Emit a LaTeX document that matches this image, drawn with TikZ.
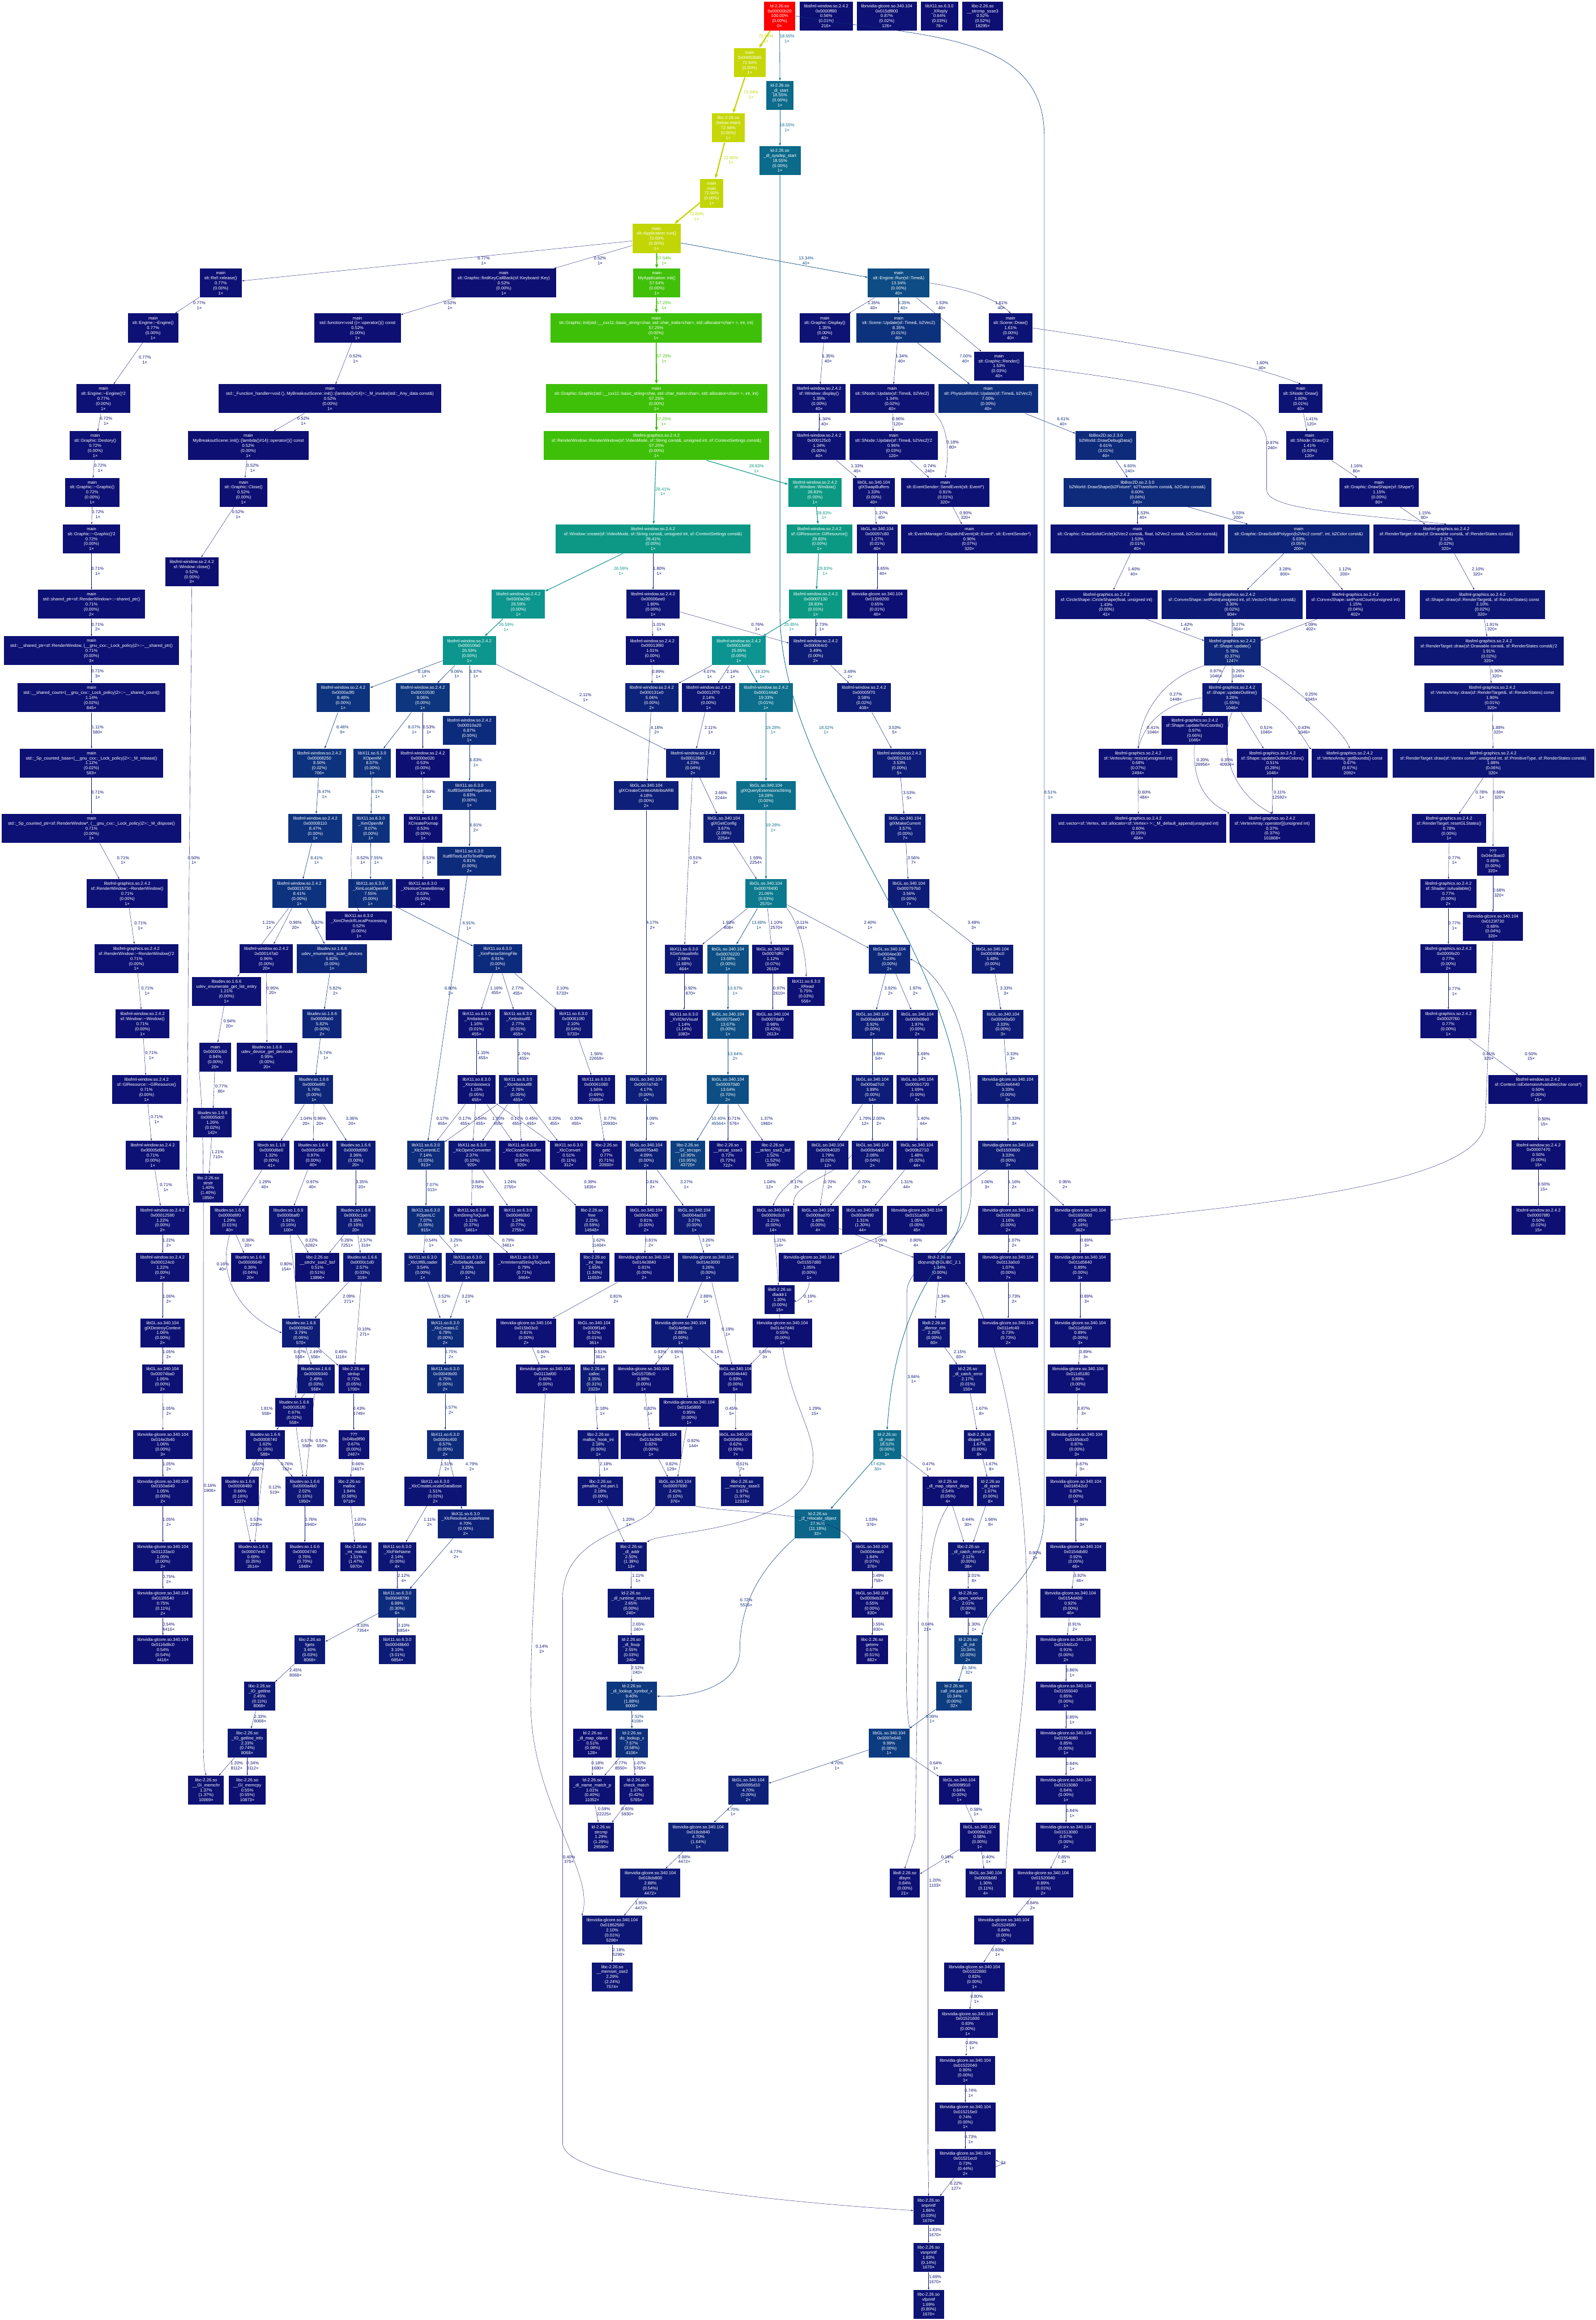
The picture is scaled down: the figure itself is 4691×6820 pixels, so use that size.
\documentclass[tikz,border=0pt]{standalone}
\usepackage{fontspec}
\setmainfont{Liberation Sans}
\usetikzlibrary{arrows.meta}
\newcommand\tld{\char"7E\relax}
\newcommand\q{\textquotesingle}
\def\mSW{libsfml-window.so.2.4.2}
\def\mSG{libsfml-graphics.so.2.4.2}
\def\mGL{libGL.so.340.104}
\def\mNV{libnvidia-glcore.so.340.104}
\def\mXL{libX11.so.6.3.0}
\def\mUD{libudev.so.1.6.6}
\def\mLC{libc-2.26.so}
\def\mLD{ld-2.26.so}
\def\mDL{libdl-2.26.so}
\def\mBX{libBox2D.so.2.3.0}
\newcommand\gfont{\fontsize{3.6}{4.18}\selectfont}
\newcommand\hrgb[4]{%
  \pgfmathsetmacro\tH{mod(#3+2,1)}%
  \pgfmathsetmacro#4{max(0,min(1,ifthenelse(\tH*6<1, #1+(#2-#1)*\tH*6, ifthenelse(\tH*2<1, #2, ifthenelse(\tH*3<2, #1+(#2-#1)*(2/3-\tH)*6, #1)))))}}
\newcommand\wcol[2]{%
  \pgfmathsetmacro\wW{#2}%
  \pgfmathsetmacro\wH{2/3*(1-\wW)}%
  \pgfmathsetmacro\wS{0.8+0.2*\wW}%
  \pgfmathsetmacro\wL{0.25+0.25*\wW}%
  \pgfmathsetmacro\wMb{\wL*(1+\wS)}%
  \pgfmathsetmacro\wMa{2*\wL-\wMb}%
  \hrgb{\wMa}{\wMb}{\wH+1/3}{\wR}%
  \hrgb{\wMa}{\wMb}{\wH}{\wG}%
  \hrgb{\wMa}{\wMb}{\wH-1/3}{\wB}%
  \definecolor{#1}{rgb}{\wR,\wG,\wB}}
\tikzset{
  gnode/.style={rectangle, draw=none, text=white, align=center, font=\gfont, inner sep=0pt, minimum height=0.85cm},
  elab/.style={align=center, font=\gfont, inner sep=0pt}}
\newcommand\gN[9]{%
  \wcol{nc#1}{#5/100}%
  \node[gnode, fill=nc#1, minimum width=#4*0.01cm] (#1) at (#2,#3) {#6\\#7\\#5\%\\(#8\%)\\#9×};}
\newcommand\gE[5]{%
  \wcol{ec}{#1/100}%
  \pgfmathsetmacro\ePW{(0.5+3.5*#1/100)*0.341}%
  \pgfmathsetmacro\eAL{6*sqrt(0.5+3.5*#1/100)*0.341}%
  \pgfmathsetmacro\eAW{0.7*\eAL}%
  \draw[ec, line width=\ePW pt, -{Triangle[length=\eAL pt, width=\eAW pt]}] #5;
  \node[elab, text=ec] at (#3,#4) {#1\%\\#2×};}
\newcommand\gS[6]{\gE{#3}{#4}{#5}{#6}{(#1) -- (#2)}}
\begin{document}
\begin{tikzpicture}[x=0.01cm,y=-0.01cm]
\fill[white] (0,0) rectangle (4691,6820);
\path[use as bounding box] (0,0) rectangle (4691,6820);
% ---------------- nodes ----------------
\gN{ld}{2292}{47}{93}{100.00}{\mLD}{0x00000b20}{0.00}{0}
\gN{sfff80}{2429}{47}{157}{0.56}{\mSW}{0x0000ff80}{0.01}{216}
\gN{nvdf800}{2607}{47}{177}{0.87}{\mNV}{0x015df800}{0.02}{126}
\gN{xreply}{2762}{47}{110}{0.64}{\mXL}{\_XReply}{0.03}{76}
\gN{strcmpss}{2889}{47}{121}{0.52}{\mLC}{\_\_strcmp\_ssse3}{0.52}{18295}
\gN{mainbb}{2204}{184}{93}{72.94}{main}{0x00003b80}{0.00}{1}
\gN{dlstart}{2293}{280}{80}{18.55}{\mLD}{\_dl\_start}{0.00}{1}
\gN{belowmain}{2141}{376}{96}{72.94}{\mLC}{(below main)}{0.00}{1}
\gN{dlsysdep}{2293}{472}{122}{18.55}{\mLD}{\_dl\_sysdep\_start}{0.00}{1}
\gN{mainmain}{2092}{568}{68}{72.60}{main}{main}{0.00}{1}
\gN{apprun}{1930}{701}{142}{72.60}{main}{slt::Application::run()}{0.00}{1}
\gN{refrel}{649}{832}{124}{0.77}{main}{slt::Ref::release()}{0.00}{1}
\gN{findkey}{1481}{832}{307}{0.52}{main}{slt::Graphic::findKeyCallBack(sf::Keyboard::Key)}{0.00}{1}
\gN{myinit}{1931}{832}{139}{57.54}{main}{MyApplication::init()}{0.00}{1}
\gN{engrun}{2642}{832}{181}{13.34}{main}{slt::Engine::Run(sf::Time\&)}{0.00}{40}
\gN{engdtor}{450}{964}{149}{0.77}{main}{slt::Engine::\tld Engine()}{0.00}{1}
\gN{funcop}{1051}{964}{255}{0.52}{main}{std::function<void ()>::operator()() const}{0.00}{1}
\gN{grinit}{1929}{964}{621}{57.25}{main}{slt::Graphic::init(std::\_\_cxx11::basic\_string<char, std::char\_traits<char>, std::allocator<char> >, int, int)}{0.00}{1}
\gN{grdisplay}{2425}{964}{148}{1.35}{main}{slt::Graphic::Display()}{0.00}{40}
\gN{sceneupd}{2642}{964}{248}{8.35}{main}{slt::Scene::Update(sf::Time\&, b2Vec2)}{0.01}{40}
\gN{scenedraw}{2971}{964}{127}{1.61}{main}{slt::Scene::Draw()}{0.00}{40}
\gN{grrender}{2937}{1076}{148}{1.53}{main}{slt::Graphic::Render()}{0.03}{40}
\gN{engdtorb}{304}{1172}{158}{0.77}{main}{slt::Engine::\tld Engine()\q2}{0.00}{1}
\gN{fhandler}{970}{1172}{655}{0.52}{main}{std::\_Function\_handler<void (), MyBreakoutScene::init()::\{lambda()\#14\}>::\_M\_invoke(std::\_Any\_data const\&)}{0.00}{1}
\gN{grctor}{1930}{1172}{651}{57.25}{main}{slt::Graphic::Graphic(std::\_\_cxx11::basic\_string<char, std::char\_traits<char>, std::allocator<char> >, int, int)}{0.00}{1}
\gN{winddisp}{2408}{1172}{157}{1.35}{\mSW}{sf::Window::display()}{0.00}{40}
\gN{snodeupd}{2623}{1172}{249}{1.34}{main}{slt::SNode::Update(sf::Time\&, b2Vec2)}{0.02}{40}
\gN{physupd}{2905}{1172}{293}{7.00}{main}{slt::PhysicalWorld::Update(sf::Time\&, b2Vec2)}{0.00}{40}
\gN{snodedraw}{3824}{1172}{129}{1.60}{main}{slt::SNode::Draw()}{0.01}{40}
\gN{destroy}{280}{1310}{151}{0.72}{main}{slt::Graphic::Destory()}{0.00}{1}
\gN{lambda}{730}{1310}{356}{0.52}{main}{MyBreakoutScene::init()::\{lambda()\#14\}::operator()() const}{0.00}{1}
\gN{rwctor}{1930}{1310}{663}{57.25}{\mSG}{sf::RenderWindow::RenderWindow(sf::VideoMode, sf::String const\&, unsigned int, sf::ContextSettings const\&)}{0.00}{1}
\gN{wcc}{2408}{1310}{157}{1.34}{\mSW}{0x000125c0}{0.00}{40}
\gN{snodeupdb}{2627}{1310}{259}{0.96}{main}{slt::SNode::Update(sf::Time\&, b2Vec2)\q2}{0.03}{120}
\gN{drawdebug}{3251}{1310}{178}{6.61}{\mBX}{b2World::DrawDebugData()}{0.01}{40}
\gN{snodedrawb}{3850}{1310}{139}{1.41}{main}{slt::SNode::Draw()\q2}{0.03}{120}
\gN{grdtor}{271}{1447}{159}{0.72}{main}{slt::Graphic::\tld Graphic()}{0.00}{1}
\gN{grclose}{716}{1447}{140}{0.52}{main}{slt::Graphic::Close()}{0.00}{1}
\gN{winctor}{2396}{1447}{157}{28.83}{\mSW}{sf::Window::Window()}{0.00}{1}
\gN{glxswap}{2569}{1447}{122}{1.33}{\mGL}{glXSwapBuffers}{0.00}{40}
\gN{sendevent}{2779}{1447}{261}{0.91}{main}{slt::EventSender::SendEvent(slt::Event*)}{0.01}{320}
\gN{drawshape}{3344}{1447}{434}{6.60}{\mBX}{b2World::DrawShape(b2Fixture*, b2Transform const\&, b2Color const\&)}{0.04}{240}
\gN{grdrawshape}{4054}{1447}{233}{1.15}{main}{slt::Graphic::DrawShape(sf::Shape*)}{0.00}{80}
\gN{grdtorb}{269}{1584}{168}{0.72}{main}{slt::Graphic::\tld Graphic()\q2}{0.00}{1}
\gN{wincreate}{1920}{1584}{572}{28.41}{\mSW}{sf::Window::create(sf::VideoMode, sf::String const\&, unsigned int, sf::ContextSettings const\&)}{0.00}{1}
\gN{glres}{2409}{1584}{194}{28.83}{\mSW}{sf::GlResource::GlResource()}{0.00}{1}
\gN{glc}{2579}{1584}{121}{1.27}{\mGL}{0x00097c80}{0.01}{40}
\gN{dispatch}{2850}{1584}{401}{0.90}{main}{slt::EventManager::DispatchEvent(slt::Event*, slt::EventSender*)}{0.07}{320}
\gN{dsc}{3344}{1584}{512}{1.53}{main}{slt::Graphic::DrawSolidCircle(b2Vec2 const\&, float, b2Vec2 const\&, b2Color const\&)}{0.01}{40}
\gN{dsp}{3818}{1584}{416}{5.03}{main}{slt::Graphic::DrawSolidPolygon(b2Vec2 const*, int, b2Color const\&)}{0.05}{200}
\gN{rtdraw}{4252}{1584}{430}{2.12}{\mSG}{sf::RenderTarget::draw(sf::Drawable const\&, sf::RenderStates const\&)}{0.02}{320}
\gN{winclose}{564}{1681}{157}{0.52}{\mSW}{sf::Window::close()}{0.00}{3}
\gN{spa}{269}{1776}{316}{0.71}{main}{std::shared\_ptr<sf::RenderWindow>::\tld shared\_ptr()}{0.00}{2}
\gN{wa}{1524}{1776}{156}{26.59}{\mSW}{0x0000a290}{0.00}{1}
\gN{wee}{1920}{1776}{157}{1.80}{\mSW}{0x00006ee0}{0.00}{1}
\gN{wse}{2398}{1776}{157}{28.83}{\mSW}{0x00007130}{0.01}{1}
\gN{nvb}{2579}{1776}{177}{0.65}{\mNV}{0x015b9200}{0.01}{40}
\gN{circshape}{3253}{1777}{301}{1.43}{\mSG}{sf::CircleShape::CircleShape(float, unsigned int)}{0.00}{41}
\gN{setpoint}{3622}{1777}{414}{3.30}{\mSG}{sf::ConvexShape::setPoint(unsigned int, sf::Vector2<float> const\&)}{0.02}{804}
\gN{setpcount}{3985}{1777}{291}{1.15}{\mSG}{sf::ConvexShape::setPointCount(unsigned int)}{0.04}{402}
\gN{shapedraw}{4358}{1777}{369}{2.10}{\mSG}{sf::Shape::draw(sf::RenderTarget\&, sf::RenderStates) const}{0.02}{320}
\gN{spb}{269}{1913}{514}{0.71}{main}{std::\_\_shared\_ptr<sf::RenderWindow, (\_\_gnu\_cxx::\_Lock\_policy)2>::\tld\_\_shared\_ptr()}{0.00}{3}
\gN{wfa}{1380}{1913}{156}{26.59}{\mSW}{0x00010fa0}{0.00}{1}
\gN{wfe}{1918}{1913}{157}{1.01}{\mSW}{0x00013f80}{0.00}{1}
\gN{wes}{2172}{1913}{157}{25.85}{\mSW}{0x00013e60}{0.00}{1}
\gN{wsf}{2398}{1913}{157}{3.49}{\mSW}{0x000064c0}{0.00}{2}
\gN{shapeupd}{3623}{1914}{165}{5.78}{\mSG}{sf::Shape::update()}{0.37}{1247}
\gN{rtdrawb}{4377}{1914}{440}{1.91}{\mSG}{sf::RenderTarget::draw(sf::Drawable const\&, sf::RenderStates const\&)\q2}{0.02}{320}
\gN{spc}{269}{2051}{436}{1.14}{main}{std::\_\_shared\_count<(\_\_gnu\_cxx::\_Lock\_policy)2>::\tld\_\_shared\_count()}{0.02}{845}
\gN{wat}{1009}{2051}{158}{8.48}{\mSW}{0x0000a3f0}{0.00}{1}
\gN{wft}{1243}{2051}{157}{9.06}{\mSW}{0x00010530}{0.00}{1}
\gN{woe}{1916}{2051}{157}{5.06}{\mSW}{0x000131e0}{0.00}{2}
\gN{wts}{2083}{2051}{157}{2.14}{\mSW}{0x00012f70}{0.00}{1}
\gN{wfr}{2252}{2051}{157}{19.33}{\mSW}{0x000144a0}{0.01}{1}
\gN{wff}{2540}{2051}{157}{3.58}{\mSW}{0x00005f70}{0.02}{408}
\gN{updoutline}{3622}{2051}{175}{3.26}{\mSG}{sf::Shape::updateOutline()}{1.55}{1046}
\gN{vadraw}{4387}{2051}{399}{1.90}{\mSG}{sf::VertexArray::draw(sf::RenderTarget\&, sf::RenderStates) const}{0.01}{320}
\gN{wat2}{1380}{2147}{156}{6.87}{\mSW}{0x00010a20}{0.00}{1}
\gN{updtex}{3512}{2147}{195}{0.97}{\mSG}{sf::Shape::updateTexCoords()}{0.66}{1046}
\gN{spd}{269}{2243}{421}{1.12}{main}{std::\_Sp\_counted\_base<(\_\_gnu\_cxx::\_Lock\_policy)2>::\_M\_release()}{0.02}{583}
\gN{wet}{939}{2243}{157}{8.50}{\mSW}{0x00008250}{0.02}{706}
\gN{xopenim}{1094}{2243}{110}{8.07}{\mXL}{XOpenIM}{0.00}{1}
\gN{wez}{1243}{2243}{157}{0.53}{\mSW}{0x0000e020}{0.00}{1}
\gN{wtd}{2037}{2243}{157}{4.23}{\mSW}{0x000128d0}{0.04}{2}
\gN{wsx}{2644}{2243}{157}{3.53}{\mSW}{0x00012610}{0.00}{5}
\gN{varesize}{3346}{2243}{231}{0.68}{\mSG}{sf::VertexArray::resize(unsigned int)}{0.07}{2494}
\gN{outlcol}{3741}{2243}{210}{0.51}{\mSG}{sf::Shape::updateOutlineColors()}{0.28}{1046}
\gN{getbounds}{3968}{2243}{223}{0.67}{\mSG}{sf::VertexArray::getBounds() const}{0.67}{2092}
\gN{rtdrawc}{4390}{2243}{593}{1.88}{\mSG}{sf::RenderTarget::draw(sf::Vertex const*, unsigned int, sf::PrimitiveType, sf::RenderStates const\&)}{0.06}{320}
\gN{setwm}{1380}{2338}{156}{6.83}{\mXL}{Xutf8SetWMProperties}{0.00}{1}
\gN{ctxattr}{1900}{2339}{190}{4.18}{\mGL}{glXCreateContextAttribsARB}{0.00}{2}
\gN{queryext}{2252}{2339}{176}{19.28}{\mGL}{glXQueryExtensionsString}{0.00}{1}
\gN{spe}{269}{2435}{528}{0.71}{main}{std::\_Sp\_counted\_ptr<sf::RenderWindow*, (\_\_gnu\_cxx::\_Lock\_policy)2>::\_M\_dispose()}{0.00}{1}
\gN{weo}{927}{2435}{158}{8.47}{\mSW}{0x00008110}{0.00}{1}
\gN{ximopen}{1090}{2435}{110}{8.07}{\mXL}{\_XimOpenIM}{0.00}{1}
\gN{xcreatepix}{1244}{2435}{114}{0.53}{\mXL}{XCreatePixmap}{0.00}{1}
\gN{getconfig}{2128}{2435}{121}{3.67}{\mGL}{glXGetConfig}{2.08}{2254}
\gN{makecur}{2661}{2435}{120}{3.57}{\mGL}{glXMakeCurrent}{0.00}{7}
\gN{vecapp}{3347}{2435}{514}{0.60}{\mSG}{std::vector<sf::Vertex, std::allocator<sf::Vertex> >::\_M\_default\_append(unsigned int)}{0.15}{484}
\gN{vaop}{3740}{2435}{251}{0.37}{\mSG}{sf::VertexArray::operator[](unsigned int)}{0.37}{101868}
\gN{resetgl}{4260}{2435}{219}{0.78}{\mSG}{sf::RenderTarget::resetGLStates()}{0.00}{1}
\gN{textlist}{1380}{2531}{188}{6.81}{\mXL}{Xutf8TextListToTextProperty}{0.00}{2}
\gN{qbac}{4389}{2531}{92}{0.68}{???}{0x04e3bac0}{0.00}{320}
\gN{rwdtor}{374}{2627}{237}{0.71}{\mSG}{sf::RenderWindow::\tld RenderWindow()}{0.00}{1}
\gN{wfs}{880}{2627}{157}{8.41}{\mSW}{0x00015730}{0.00}{1}
\gN{ximlocal}{1089}{2627}{130}{7.55}{\mXL}{\_XimLocalOpenIM}{0.00}{1}
\gN{xnotice}{1243}{2627}{157}{0.53}{\mXL}{\_XNoticeCreateBitmap}{0.00}{1}
\gN{glse}{2252}{2627}{121}{21.06}{\mGL}{0x00078400}{0.63}{2570}
\gN{glsn}{2672}{2627}{121}{3.56}{\mGL}{0x000797b0}{0.00}{7}
\gN{isavail}{4258}{2627}{165}{0.77}{\mSG}{sf::Shader::isAvailable()}{0.00}{2}
\gN{checklp}{1055}{2722}{195}{0.52}{\mXL}{\_XimCheckIfLocalProcessing}{0.00}{1}
\gN{nvot}{4389}{2723}{175}{0.68}{\mNV}{0x0123f730}{0.04}{320}
\gN{rwdtorb}{401}{2818}{247}{0.71}{\mSG}{sf::RenderWindow::\tld RenderWindow()\q2}{0.00}{1}
\gN{wfo}{783}{2818}{157}{0.96}{\mSW}{0x000147a0}{0.00}{20}
\gN{scandev}{976}{2818}{206}{5.82}{\mUD}{udev\_enumerate\_scan\_devices}{0.00}{1}
\gN{parsestr}{1463}{2818}{143}{6.91}{\mXL}{\_XimParseStringFile}{0.00}{1}
\gN{xgetvis}{2011}{2819}{111}{2.68}{\mXL}{XGetVisualInfo}{1.68}{464}
\gN{glst}{2140}{2819}{121}{13.68}{\mGL}{0x00076220}{0.00}{1}
\gN{glsd}{2272}{2819}{121}{1.12}{\mGL}{0x0007dff0}{0.07}{2610}
\gN{glfe}{2615}{2819}{121}{6.24}{\mGL}{0x0004ee30}{0.00}{2}
\gN{glfn}{2918}{2819}{121}{3.48}{\mGL}{0x00049bc0}{0.00}{3}
\gN{wfez}{4258}{2818}{165}{0.77}{\mSG}{0x0000fe20}{0.00}{2}
\gN{getlist}{666}{2914}{203}{1.21}{\mUD}{udev\_enumerate\_get\_list\_entry}{0.00}{1}
\gN{xread}{2370}{2914}{110}{0.75}{\mXL}{\_XRead}{0.03}{556}
\gN{windtor}{419}{3010}{158}{0.71}{\mSW}{sf::Window::\tld Window()}{0.00}{1}
\gN{ufab}{947}{3010}{115}{5.82}{\mUD}{0x0000fab0}{0.00}{2}
\gN{xmbstowcs}{1401}{3010}{109}{1.16}{\mXL}{\_Xmbstowcs}{0.01}{455}
\gN{xmbstoutf}{1523}{3010}{108}{2.77}{\mXL}{\_Xmbstoutf8}{0.01}{455}
\gN{xsoz}{1686}{3010}{111}{2.10}{\mXL}{0x000610f0}{0.54}{5733}
\gN{xvid}{2011}{3011}{111}{1.14}{\mXL}{\_XVIDtoVisual}{1.14}{1083}
\gN{glsee}{2140}{3011}{121}{13.67}{\mGL}{0x00075ee0}{0.00}{1}
\gN{glsda}{2272}{3011}{121}{0.98}{\mGL}{0x0007daf0}{0.42}{2613}
\gN{gladd}{2565}{3011}{121}{3.92}{\mGL}{0x000addd0}{0.00}{2}
\gN{glbze}{2697}{3011}{121}{1.97}{\mGL}{0x000b08e0}{0.00}{2}
\gN{glfna}{2949}{3011}{121}{3.33}{\mGL}{0x00049a50}{0.00}{3}
\gN{wtfs}{4258}{3010}{165}{0.77}{\mSG}{0x0002f760}{0.00}{1}
\gN{mcb}{633}{3107}{94}{0.94}{main}{0x00003cb0}{0.00}{20}
\gN{devnode}{785}{3107}{177}{0.95}{\mUD}{udev\_device\_get\_devnode}{0.00}{20}
\gN{glresdtor}{431}{3203}{204}{0.71}{\mSW}{sf::GlResource::\tld GlResource()}{0.00}{1}
\gN{uesf}{923}{3203}{113}{5.74}{\mUD}{0x0000e6f0}{0.00}{1}
\gN{xlcmbstowcs}{1401}{3203}{111}{1.15}{\mXL}{\_Xlcmbstowcs}{0.05}{455}
\gN{xlcmbstoutf}{1523}{3203}{113}{2.76}{\mXL}{\_Xlcmbstoutf8}{0.05}{455}
\gN{xsoe}{1753}{3203}{110}{1.56}{\mXL}{0x00061080}{0.69}{22659}
\gN{glsaf}{1900}{3203}{120}{4.17}{\mGL}{0x0007a740}{0.00}{2}
\gN{glnz}{2140}{3203}{123}{13.64}{\mGL}{0x000970d0}{0.70}{2}
\gN{glads}{2565}{3203}{121}{3.89}{\mGL}{0x000ad7c0}{0.00}{54}
\gN{glbos}{2697}{3203}{121}{1.69}{\mGL}{0x000b1720}{0.00}{2}
\gN{nvefs}{2963}{3203}{177}{3.33}{\mNV}{0x014e6440}{0.00}{3}
\gN{isext}{4522}{3203}{291}{0.50}{\mSW}{sf::Context::isExtensionAvailable(char const*)}{0.00}{15}
\gN{udc}{625}{3300}{113}{1.26}{\mUD}{0x00005dc0}{0.02}{142}
\gN{wdn}{449}{3396}{158}{0.71}{\mSW}{0x00005d90}{0.00}{1}
\gN{xcb}{798}{3396}{105}{1.32}{libxcb.so.1.1.0}{0x0000d6e0}{0.00}{41}
\gN{uce}{921}{3396}{114}{0.97}{\mUD}{0x0000c080}{0.00}{40}
\gN{udn}{1046}{3396}{115}{3.36}{\mUD}{0x0000d090}{0.00}{20}
\gN{xlccurlc}{1252}{3396}{110}{7.14}{\mXL}{\_XlcCurrentLC}{0.03}{913}
\gN{xlcopenconv}{1388}{3396}{137}{2.37}{\mXL}{\_XlcOpenConverter}{0.10}{920}
\gN{xlccloseconv}{1535}{3396}{137}{0.62}{\mXL}{\_XlcCloseConverter}{0.04}{920}
\gN{xlcconvert}{1672}{3396}{110}{0.51}{\mXL}{\_XlcConvert}{0.11}{312}
\gN{getc}{1783}{3396}{90}{0.77}{\mLC}{getc}{0.71}{20930}
\gN{glsfa}{1900}{3396}{120}{4.09}{\mGL}{0x00075a40}{0.00}{2}
\gN{strcspn}{2022}{3396}{101}{10.95}{\mLC}{\_\_GI\_strcspn}{10.95}{43720}
\gN{strcat}{2140}{3396}{110}{0.72}{\mLC}{\_\_strcat\_ssse3}{0.72}{722}
\gN{strlen}{2272}{3396}{128}{1.52}{\mLC}{\_\_strlen\_sse2\_bsf}{1.52}{3945}
\gN{glbft}{2434}{3396}{122}{1.79}{\mGL}{0x000b4020}{0.02}{12}
\gN{glbfa}{2565}{3396}{122}{2.08}{\mGL}{0x000b4ab0}{0.04}{2}
\gN{glbst}{2696}{3396}{122}{1.48}{\mGL}{0x000b2710}{0.02}{44}
\gN{nvfze}{2964}{3396}{177}{3.33}{\mNV}{0x01500800}{0.00}{3}
\gN{wsfs}{4523}{3395}{157}{0.50}{\mSW}{0x00007470}{0.00}{15}
\gN{strstr}{612}{3492}{89}{1.40}{\mLC}{strstr}{1.40}{1850}
\gN{wofn}{478}{3587}{157}{1.22}{\mSW}{0x00012590}{0.00}{2}
\gN{udsf}{675}{3587}{113}{1.29}{\mUD}{0x0000d6f0}{0.01}{40}
\gN{ubaf}{848}{3587}{113}{1.91}{\mUD}{0x0000baf0}{0.16}{100}
\gN{ucoa}{1046}{3587}{115}{3.35}{\mUD}{0x0000c1a0}{0.16}{20}
\gN{xopenlc}{1252}{3587}{110}{7.07}{\mXL}{XOpenLC}{0.09}{915}
\gN{strquark}{1386}{3587}{131}{1.11}{\mXL}{XrmStringToQuark}{0.37}{3461}
\gN{xfsz}{1523}{3587}{113}{1.24}{\mXL}{0x000460b0}{0.77}{2755}
\gN{free}{1740}{3587}{96}{2.25}{\mLC}{free}{0.59}{14948}
\gN{glfat}{1900}{3587}{120}{0.81}{\mGL}{0x0004a300}{0.00}{2}
\gN{glfad}{2041}{3587}{120}{3.27}{\mGL}{0x0004ad10}{0.00}{1}
\gN{glncc}{2273}{3587}{119}{1.21}{\mGL}{0x0009c0c0}{0.00}{14}
\gN{glnad}{2405}{3587}{121}{1.40}{\mGL}{0x0009ad70}{0.00}{4}
\gN{glafn}{2536}{3587}{119}{1.31}{\mGL}{0x000af490}{1.30}{44}
\gN{nvofa}{2696}{3587}{177}{1.05}{\mNV}{0x0151a080}{0.00}{45}
\gN{nvftb}{2964}{3587}{177}{1.16}{\mNV}{0x01503b80}{0.00}{2}
\gN{nvsfz}{3176}{3587}{177}{1.45}{\mNV}{0x01650500}{0.16}{362}
\gN{wsef}{4523}{3587}{157}{0.50}{\mSW}{0x000078f0}{0.02}{15}
\gN{wofc}{478}{3726}{157}{1.22}{\mSW}{0x000124c0}{0.00}{2}
\gN{usss}{736}{3726}{113}{0.36}{\mUD}{0x00006640}{0.04}{20}
\gN{strchr}{933}{3726}{130}{0.51}{\mLC}{\_\_strchr\_sse2\_bsf}{0.51}{13896}
\gN{ucod}{1065}{3726}{113}{2.57}{\mUD}{0x0000c1d0}{0.03}{319}
\gN{utfload}{1243}{3726}{110}{3.54}{\mXL}{\_XlcUtf8Loader}{0.00}{1}
\gN{defload}{1375}{3726}{128}{3.25}{\mXL}{\_XlcDefaultLoader}{0.00}{1}
\gN{xrmquark}{1541}{3726}{180}{0.79}{\mXL}{\_XrmInternalStringToQuark}{0.71}{3464}
\gN{intfree}{1748}{3726}{87}{1.65}{\mLC}{\_int\_free}{1.34}{11653}
\gN{nvete}{1894}{3726}{174}{0.81}{\mNV}{0x014e3840}{0.00}{2}
\gN{nvetz}{2082}{3726}{178}{3.26}{\mNV}{0x014e3000}{0.00}{1}
\gN{nvfsd}{2379}{3726}{178}{1.05}{\mNV}{0x01557d80}{0.00}{1}
\gN{dlopen}{2762}{3726}{151}{1.34}{\mDL}{dlopen@@GLIBC\_2.1}{0.00}{8}
\gN{nvota}{2964}{3726}{177}{1.07}{\mNV}{0x0113a0c0}{0.00}{7}
\gN{nvodf}{3176}{3726}{177}{0.89}{\mNV}{0x011d5840}{0.00}{3}
\gN{dladdri}{2292}{3821}{88}{1.30}{\mDL}{dladdr1}{0.00}{15}
\gN{destroyctx}{478}{3918}{131}{1.06}{\mGL}{glXDestroyContext}{0.00}{2}
\gN{unft}{885}{3918}{113}{3.79}{\mUD}{0x00009420}{0.06}{570}
\gN{xlccreatelc}{1309}{3918}{108}{6.78}{\mXL}{\_XlcCreateLC}{0.00}{2}
\gN{nvfbz}{1547}{3918}{176}{0.81}{\mNV}{0x015b03c0}{0.00}{2}
\gN{glnfo}{1747}{3918}{120}{0.52}{\mGL}{0x0009f1e0}{0.01}{361}
\gN{nvene}{2001}{3918}{174}{2.88}{\mNV}{0x014e9ec0}{0.00}{1}
\gN{nvesd}{2300}{3918}{176}{0.55}{\mNV}{0x014e7d40}{0.00}{3}
\gN{dlerrrun}{2746}{3918}{93}{2.26}{\mDL}{\_dlerror\_run}{0.00}{60}
\gN{nvoef}{2964}{3918}{177}{0.73}{\mNV}{0x011efc40}{0.73}{2}
\gN{nvodsz}{3176}{3918}{177}{0.89}{\mNV}{0x011d5600}{0.00}{3}
\gN{glsfb}{478}{4054}{121}{1.05}{\mGL}{0x00074ba0}{0.00}{2}
\gN{untf}{929}{4054}{111}{2.49}{\mUD}{0x00009340}{0.03}{558}
\gN{strdup}{1040}{4054}{90}{0.72}{\mLC}{strdup}{0.05}{1700}
\gN{xfnb}{1309}{4054}{108}{6.75}{\mXL}{0x00049b00}{0.00}{2}
\gN{nvoaf}{1603}{4054}{174}{0.60}{\mNV}{0x0113af00}{0.00}{2}
\gN{calloc}{1747}{4054}{82}{3.35}{\mLC}{calloc}{0.31}{2323}
\gN{nvfse}{1892}{4054}{177}{0.98}{\mNV}{0x015708c0}{0.00}{1}
\gN{glfbff}{2162}{4054}{95}{0.93}{\mGL}{0x0004b440}{0.00}{5}
\gN{dlcatch}{2845}{4054}{109}{2.17}{\mLD}{\_dl\_catch\_error}{0.01}{150}
\gN{nvodfe}{3169}{4054}{177}{0.89}{\mNV}{0x011d5180}{0.00}{3}
\gN{ufof}{865}{4152}{110}{0.67}{\mUD}{0x000051f0}{0.02}{558}
\gN{nvfas}{2026}{4152}{175}{0.95}{\mNV}{0x015a5800}{0.00}{1}
\gN{nvetb}{479}{4246}{174}{1.06}{\mNV}{0x014e2b40}{0.00}{3}
\gN{uesz}{780}{4246}{114}{1.62}{\mUD}{0x00008740}{0.16}{588}
\gN{qnf}{1040}{4246}{90}{0.67}{???}{0x04ba9f90}{0.00}{2467}
\gN{xfcf}{1309}{4246}{108}{6.57}{\mXL}{0x0004c400}{0.00}{2}
\gN{mallochook}{1759}{4246}{120}{2.18}{\mLC}{malloc\_hook\_ini}{0.00}{1}
\gN{nvotf}{1914}{4246}{178}{0.82}{\mNV}{0x013a3f40}{0.00}{1}
\gN{glfbz}{2163}{4246}{95}{0.62}{\mGL}{0x0004b060}{0.00}{7}
\gN{dlmain}{2608}{4246}{81}{18.52}{\mLD}{dl\_main}{0.00}{1}
\gN{dlopendoit}{2879}{4246}{91}{1.67}{\mDL}{dlopen\_doit}{0.00}{8}
\gN{nvosd}{3166}{4246}{177}{0.87}{\mNV}{0x0165dcc0}{0.00}{3}
\gN{nvfsa}{479}{4384}{174}{1.05}{\mNV}{0x0150a640}{0.00}{2}
\gN{uefe}{706}{4384}{111}{0.66}{\mUD}{0x00008480}{0.16}{1227}
\gN{uafb}{896}{4384}{113}{2.02}{\mUD}{0x0000a4b0}{0.16}{1950}
\gN{malloc}{1027}{4384}{89}{1.94}{\mLC}{malloc}{0.58}{9718}
\gN{xlccrdb}{1280}{4384}{184}{1.51}{\mXL}{\_XlcCreateLocaleDataBase}{0.02}{2}
\gN{ptmalloc}{1765}{4384}{132}{2.18}{\mLC}{ptmalloc\_init.part.1}{0.00}{1}
\gN{glnsn}{1985}{4384}{118}{2.41}{\mGL}{0x00097690}{0.10}{376}
\gN{memcpy}{2182}{4384}{125}{1.97}{\mLC}{\_\_memcpy\_ssse3}{1.97}{12318}
\gN{mapobj}{2787}{4384}{149}{0.54}{\mLD}{\_dl\_map\_object\_deps}{0.05}{4}
\gN{dlopenb}{2912}{4384}{81}{1.67}{\mLD}{\_dl\_open}{0.00}{8}
\gN{nvefc}{3163}{4384}{177}{0.87}{\mNV}{0x018542c0}{0.00}{3}
\gN{xlcresolve}{1369}{4479}{165}{4.70}{\mXL}{\_XlcResolveLocaleName}{0.00}{2}
\gN{dlreloc}{2404}{4479}{135}{17.91}{\mLD}{\_dl\_relocate\_object}{11.18}{32}
\gN{nvotac}{479}{4576}{174}{1.05}{\mNV}{0x01133ac0}{0.00}{2}
\gN{usef}{745}{4576}{112}{0.69}{\mUD}{0x00007e40}{0.25}{2614}
\gN{ufsf}{896}{4576}{113}{0.76}{\mUD}{0x00004740}{0.70}{1948}
\gN{intmalloc}{1047}{4576}{91}{1.51}{\mLC}{\_int\_malloc}{1.47}{5970}
\gN{xlcfilename}{1168}{4576}{110}{2.14}{\mXL}{\_XlcFileName}{0.00}{4}
\gN{dladdr}{1856}{4576}{92}{2.50}{\mLC}{\_dl\_addr}{1.38}{13}
\gN{glfea}{2564}{4576}{119}{1.84}{\mGL}{0x0004eac0}{0.07}{376}
\gN{dlcatchb}{2847}{4576}{121}{2.11}{\mLC}{\_dl\_catch\_error\q2}{0.00}{38}
\gN{nvfdb}{3163}{4576}{177}{0.92}{\mNV}{0x0154db80}{0.00}{46}
\gN{nvofs}{479}{4713}{174}{0.75}{\mNV}{0x011f6540}{0.11}{2}
\gN{xfse}{1168}{4713}{110}{6.89}{\mXL}{0x00048790}{0.30}{6}
\gN{dlruntime}{1855}{4713}{136}{2.65}{\mLD}{\_dl\_runtime\_resolve}{0.00}{240}
\gN{glneb}{2564}{4713}{119}{0.55}{\mGL}{0x0009eb30}{0.00}{830}
\gN{dlopenwk}{2846}{4713}{112}{2.01}{\mLD}{dl\_open\_worker}{0.00}{8}
\gN{nvfdf}{3147}{4713}{176}{0.92}{\mNV}{0x0154d400}{0.00}{46}
\gN{bnv}{479}{4850}{177}{0.54}{\mNV}{0x0116d8c0}{0.54}{4416}
\gN{fgets}{911}{4850}{91}{3.40}{\mLC}{fgets}{0.03}{8068}
\gN{xfbs}{1168}{4850}{109}{3.10}{\mXL}{0x00048b60}{3.01}{6854}
\gN{getline}{763}{4986}{91}{2.45}{\mLC}{\_IO\_getline}{0.11}{8068}
\gN{getlinfo}{727}{5124}{115}{2.33}{\mLC}{\_IO\_getline\_info}{0.74}{8068}
\gN{memchr}{606}{5262}{105}{1.37}{\mLC}{\_\_GI\_memchr}{1.37}{10069}
\gN{gimemcpy}{727}{5262}{109}{0.55}{\mLC}{\_\_GI\_memcpy}{0.55}{10873}
\gN{dlfixup}{1856}{4850}{78}{2.55}{\mLD}{\_dl\_fixup}{0.03}{240}
\gN{lookup}{1857}{4986}{148}{9.40}{\mLD}{\_dl\_lookup\_symbol\_x}{1.88}{6000}
\gN{mapobject}{1742}{5124}{113}{0.51}{\mLD}{\_dl\_map\_object}{0.08}{128}
\gN{dolookup}{1858}{5124}{95}{7.57}{\mLD}{do\_lookup\_x}{3.58}{4106}
\gN{namematch}{1741}{5262}{136}{1.01}{\mLD}{\_dl\_name\_match\_p}{0.40}{11052}
\gN{checkmatch}{1871}{5262}{100}{1.07}{\mLD}{check\_match}{0.42}{5765}
\gN{ldstrcmp}{1767}{5400}{77}{1.29}{\mLD}{strcmp}{1.29}{29590}
\gN{glndsd}{2200}{5262}{119}{4.70}{\mGL}{0x00095d10}{0.00}{2}
\gN{nvecb}{2053}{5400}{176}{4.70}{\mNV}{0x018cb840}{1.64}{1}
\gN{nvecbz}{1912}{5536}{176}{2.88}{\mNV}{0x018cb800}{0.54}{4472}
\gN{nvesfs}{1800}{5674}{177}{2.10}{\mNV}{0x01862560}{0.01}{5298}
\gN{memset}{1800}{5811}{120}{2.29}{\mLC}{\_\_memset\_sse2}{2.24}{7574}
\gN{getenv}{2564}{4850}{92}{0.57}{\mLC}{getenv}{0.51}{882}
\gN{dlinit}{2846}{4850}{81}{10.34}{\mLD}{\_dl\_init}{0.00}{2}
\gN{callinit}{2805}{4986}{104}{10.34}{\mLD}{call\_init.part.0}{0.00}{32}
\gN{glsef}{2614}{5124}{119}{9.99}{\mGL}{0x0007e640}{0.00}{1}
\gN{glnfn}{2820}{5262}{119}{0.64}{\mGL}{0x0009f910}{0.00}{1}
\gN{glnao}{2880}{5400}{117}{0.58}{\mGL}{0x0009a120}{0.00}{1}
\gN{dlsym}{2660}{5536}{89}{0.84}{\mDL}{dlsym}{0.00}{21}
\gN{glbsf}{2898}{5536}{119}{1.30}{\mGL}{0x0000b6f0}{0.11}{4}
\gN{ra}{3134}{4850}{176}{0.91}{\mNV}{0x0154d1c0}{0.00}{2}
\gN{rb}{3134}{4986}{176}{0.85}{\mNV}{0x01555040}{0.00}{1}
\gN{rc}{3134}{5124}{176}{0.85}{\mNV}{0x01554080}{0.00}{1}
\gN{rd}{3134}{5262}{176}{0.84}{\mNV}{0x01515080}{0.00}{1}
\gN{re}{3134}{5400}{176}{0.87}{\mNV}{0x01513080}{0.00}{2}
\gN{rf}{3067}{5536}{177}{0.89}{\mNV}{0x01520040}{0.01}{2}
\gN{rg}{2951}{5674}{176}{0.84}{\mNV}{0x01524580}{0.00}{2}
\gN{rh}{2865}{5811}{178}{0.83}{\mNV}{0x01522880}{0.00}{1}
\gN{ri}{2845}{5949}{177}{0.83}{\mNV}{0x01521600}{0.00}{1}
\gN{rj}{2838}{6086}{175}{0.80}{\mNV}{0x01522040}{0.00}{1}
\gN{rk}{2838}{6223}{177}{0.74}{\mNV}{0x015215e0}{0.00}{1}
\gN{rl}{2838}{6360}{177}{0.73}{\mNV}{0x01521ec0}{0.44}{2}
\gN{snprintf}{2730}{6498}{90}{1.86}{\mLC}{snprintf}{0.03}{1670}
\gN{vsnprintf}{2730}{6636}{90}{1.83}{\mLC}{vsnprintf}{0.14}{1670}
\gN{vfprintf}{2730}{6774}{90}{1.69}{\mLC}{vfprintf}{0.80}{1670}
% ---------------- edges ----------------
\gS{ld}{mainbb}{72.94}{1}{2252}{114}
\gS{ld}{dlstart}{18.55}{1}{2314}{114}
\gS{mainbb}{belowmain}{72.94}{1}{2208}{279}
\gS{dlstart}{dlsysdep}{18.55}{1}{2314}{375}
\gS{belowmain}{mainmain}{72.60}{1}{2149}{471}
\gS{mainmain}{apprun}{72.60}{1}{2048}{636}
\gS{apprun}{refrel}{0.77}{1}{1422}{766}
\gS{apprun}{findkey}{0.52}{1}{1764}{766}
\gS{apprun}{myinit}{57.54}{1}{1952}{766}
\gS{apprun}{engrun}{13.34}{40}{2370}{766}
\gS{refrel}{engdtor}{0.77}{1}{586}{898}
\gS{findkey}{funcop}{0.52}{1}{1323}{898}
\gS{myinit}{grinit}{57.25}{1}{1952}{898}
\gS{engrun}{grdisplay}{1.35}{40}{2569}{898}
\gS{engrun}{sceneupd}{8.35}{40}{2658}{898}
\gS{engrun}{grrender}{1.53}{40}{2769}{898}
\gE{1.61}{40}{2944}{898}{(engrun.east) .. controls (2850,850) and (2930,880) .. (scenedraw.north)}
\gS{engdtor}{engdtorb}{0.77}{1}{426}{1058}
\gS{funcop}{fhandler}{0.52}{1}{1045}{1054}
\gS{grinit}{grctor}{57.25}{1}{1952}{1054}
\gS{grdisplay}{winddisp}{1.35}{40}{2435}{1054}
\gS{sceneupd}{snodeupd}{1.34}{40}{2651}{1054}
\gS{sceneupd}{physupd}{7.00}{40}{2839}{1054}
\gE{1.60}{40}{3711}{1075}{(scenedraw.east) .. controls (3350,1010) and (3650,1060) .. (snodedraw.north)}
\gS{engdtorb}{destroy}{0.72}{1}{312}{1238}
\gS{fhandler}{lambda}{0.52}{1}{892}{1238}
\gS{grctor}{rwctor}{57.25}{1}{1951}{1240}
\gS{winddisp}{wcc}{1.34}{40}{2425}{1240}
\gS{snodeupd}{snodeupdb}{0.96}{120}{2641}{1240}
\gE{0.18}{80}{2801}{1308}{(snodeupd.south east) .. controls (2790,1260) and (2790,1330) .. (sendevent.north)}
\gS{physupd}{drawdebug}{6.61}{40}{3126}{1240}
\gS{snodedraw}{snodedrawb}{1.41}{120}{3856}{1240}
\gS{destroy}{grdtor}{0.72}{1}{295}{1376}
\gS{lambda}{grclose}{0.52}{1}{743}{1376}
\gS{rwctor}{winctor}{28.83}{1}{2224}{1377}
\gS{rwctor}{wincreate}{28.41}{1}{1949}{1445}
\gS{wcc}{glxswap}{1.33}{40}{2520}{1377}
\gS{snodeupdb}{sendevent}{0.74}{240}{2734}{1377}
\gS{drawdebug}{drawshape}{6.60}{240}{3322}{1378}
\gS{snodedrawb}{grdrawshape}{1.16}{80}{3988}{1378}
\gE{0.97}{240}{3741}{1309}{(grrender.east) .. controls (3450,1130) and (3724,1180) .. (3724,1300) -- (3724,1440) .. controls (3724,1500) and (3980,1510) .. (rtdraw.north)}
\gS{grdtor}{grdtorb}{0.72}{1}{288}{1513}
\gS{grclose}{winclose}{0.52}{1}{700}{1513}
\gS{winctor}{glres}{28.83}{1}{2423}{1515}
\gS{glxswap}{glc}{1.27}{40}{2592}{1515}
\gS{sendevent}{dispatch}{0.90}{320}{2839}{1515}
\gS{drawshape}{dsc}{1.53}{40}{3361}{1515}
\gS{drawshape}{dsp}{5.03}{200}{3641}{1515}
\gS{grdrawshape}{rtdraw}{1.15}{80}{4188}{1515}
\gS{grdtorb}{spa}{0.71}{1}{287}{1679}
\gS{wincreate}{wa}{26.59}{1}{1826}{1679}
\gS{wincreate}{wee}{1.80}{1}{1938}{1679}
\gS{glres}{wse}{28.83}{1}{2426}{1679}
\gS{glc}{nvb}{0.65}{40}{2596}{1679}
\gS{dsc}{circshape}{1.40}{40}{3334}{1680}
\gS{dsp}{setpoint}{3.28}{800}{3778}{1680}
\gS{dsp}{setpcount}{1.12}{200}{3954}{1680}
\gS{rtdraw}{shapedraw}{2.10}{320}{4345}{1680}
\gS{spa}{spb}{0.71}{2}{287}{1843}
\gS{wa}{wfa}{26.59}{1}{1488}{1844}
\gS{wee}{wfe}{1.01}{1}{1938}{1843}
\gS{wee}{wsf}{0.76}{1}{2227}{1843}
\gS{wse}{wes}{25.85}{1}{2327}{1843}
\gS{wse}{wsf}{2.73}{1}{2416}{1843}
\gS{circshape}{shapeupd}{1.42}{41}{3489}{1843}
\gS{setpoint}{shapeupd}{3.27}{804}{3641}{1843}
\gS{setpcount}{shapeupd}{1.09}{402}{3854}{1843}
\gS{shapedraw}{rtdrawb}{1.91}{320}{4387}{1843}
\gS{spb}{spc}{0.71}{3}{287}{1981}
\gS{wfa}{wat}{8.18}{1}{1247}{1981}
\gS{wfa}{wft}{9.06}{1}{1343}{1981}
\gS{wfa}{wat2}{6.87}{1}{1399}{1981}
\gS{wfa}{wtd}{2.11}{1}{1721}{2050}
\gS{wfe}{woe}{0.99}{1}{1935}{1982}
\gS{wes}{woe}{4.07}{1}{2086}{1982}
\gS{wes}{wts}{2.14}{1}{2154}{1982}
\gS{wes}{wfr}{19.33}{1}{2241}{1982}
\gS{wsf}{wff}{3.49}{2}{2499}{1982}
\gE{0.27}{1448}{3457}{2049}{(shapeupd.south west) .. controls (3400,2000) and (3350,2120) .. (varesize.north)}
\gS{shapeupd}{updtex}{0.97}{1046}{3575}{1981}
\gS{shapeupd}{updoutline}{3.26}{1046}{3641}{1981}
\gE{0.25}{1045}{3855}{2049}{(shapeupd.south east) .. controls (3800,2010) and (3950,2150) .. (getbounds.north)}
\gS{rtdrawb}{vadraw}{1.90}{320}{4401}{1981}
\gS{spc}{spd}{1.11}{580}{287}{2145}
\gS{wat}{wet}{8.48}{9}{1007}{2145}
\gS{wft}{xopenim}{8.07}{1}{1218}{2145}
\gS{wft}{wez}{0.53}{1}{1261}{2145}
\gS{wat2}{setwm}{6.83}{1}{1399}{2241}
\gS{woe}{ctxattr}{4.18}{2}{1931}{2146}
\gS{wts}{wtd}{2.11}{1}{2089}{2146}
\gS{wfr}{queryext}{19.28}{1}{2273}{2146}
\gS{wff}{wsx}{3.53}{5}{2630}{2146}
\gE{0.41}{1046}{3390}{2146}{(updoutline.west) .. controls (3400,2070) and (3360,2150) .. (varesize.north)}
\gE{0.35}{40934}{3607}{2241}{(updoutline.south) .. controls (3580,2200) and (3620,2330) .. (vaop.north)}
\gS{updoutline}{outlcol}{0.51}{1046}{3723}{2146}
\gE{0.43}{1046}{3834}{2146}{(updoutline.east) .. controls (3800,2100) and (3850,2200) .. (getbounds.north west)}
\gS{vadraw}{rtdrawc}{1.88}{320}{4405}{2146}
\gE{0.20}{26956}{3536}{2241}{(updtex.south) .. controls (3500,2350) and (3600,2380) .. (vaop.north west)}
\gS{spd}{spe}{0.71}{1}{287}{2337}
\gS{wet}{weo}{8.47}{1}{954}{2335}
\gS{xopenim}{ximopen}{8.07}{1}{1110}{2335}
\gS{wez}{xcreatepix}{0.53}{1}{1261}{2335}
\gS{setwm}{textlist}{6.81}{2}{1399}{2433}
\gS{wtd}{getconfig}{3.66}{2244}{2120}{2338}
\gS{wtd}{xgetvis}{0.51}{2}{2045}{2529}
\gS{queryext}{glse}{19.28}{1}{2273}{2433}
\gS{wsx}{makecur}{3.53}{5}{2673}{2338}
\gS{varesize}{vecapp}{0.60}{484}{3365}{2337}
\gS{outlcol}{vaop}{0.11}{12592}{3762}{2337}
\gS{rtdrawc}{resetgl}{0.78}{1}{4356}{2337}
\gS{rtdrawc}{qbac}{0.68}{320}{4407}{2337}
\gS{spe}{rwdtor}{0.71}{1}{362}{2529}
\gS{weo}{wfs}{8.41}{1}{931}{2529}
\gS{ximopen}{ximlocal}{7.55}{1}{1107}{2529}
\gE{0.52}{1}{1067}{2529}{(ximopen.south west) .. controls (1030,2530) and (1030,2620) .. (checklp.north)}
\gS{xcreatepix}{xnotice}{0.53}{1}{1261}{2529}
\gS{getconfig}{glse}{1.59}{2254}{2222}{2529}
\gS{makecur}{glsn}{3.56}{7}{2686}{2529}
\gS{resetgl}{isavail}{0.77}{1}{4276}{2529}
\gS{qbac}{nvot}{0.68}{320}{4407}{2625}
\gS{rwdtor}{rwdtorb}{0.71}{1}{413}{2721}
\gS{wfs}{getlist}{1.21}{1}{790}{2720}
\gS{wfs}{wfo}{0.96}{20}{869}{2720}
\gS{wfs}{scandev}{5.82}{1}{933}{2720}
\gS{ximlocal}{parsestr}{6.91}{1}{1378}{2721}
\gS{textlist}{xlccurlc}{6.80}{2}{1325}{2912}
\gS{glse}{xgetvis}{1.93}{408}{2142}{2720}
\gS{glse}{glst}{13.68}{1}{2231}{2720}
\gS{glse}{glsd}{1.10}{2570}{2283}{2720}
\gE{0.11}{491}{2359}{2720}{(glse.south east) .. controls (2340,2700) and (2370,2790) .. (xread.north)}
\gS{glse}{glfe}{2.40}{1}{2558}{2720}
\gS{glsn}{glfn}{3.48}{3}{2863}{2720}
\gS{isavail}{wfez}{0.77}{1}{4276}{2721}
\gS{rwdtorb}{windtor}{0.71}{1}{433}{2912}
\gS{scandev}{ufab}{5.82}{2}{986}{2912}
\gS{getlist}{mcb}{0.94}{20}{675}{3009}
\gS{wfo}{devnode}{0.95}{20}{802}{2912}
\gS{parsestr}{xmbstowcs}{1.16}{455}{1459}{2912}
\gS{parsestr}{xmbstoutf}{2.77}{455}{1522}{2913}
\gS{parsestr}{xsoz}{2.10}{5733}{1654}{2913}
\gS{xgetvis}{xvid}{0.92}{870}{2030}{2913}
\gS{glst}{glsee}{13.67}{1}{2161}{2913}
\gS{glsd}{glsda}{0.97}{2610}{2291}{2913}
\gS{glfe}{gladd}{3.92}{2}{2618}{2913}
\gS{glfe}{glbze}{1.97}{2}{2691}{2913}
\gS{glfn}{glfna}{3.33}{3}{2958}{2913}
\gS{wfez}{wtfs}{0.77}{1}{4276}{2914}
\gS{windtor}{glresdtor}{0.71}{1}{445}{3103}
\gS{ufab}{uesf}{5.74}{1}{958}{3103}
\gS{xmbstowcs}{xlcmbstowcs}{1.15}{455}{1421}{3103}
\gS{xmbstoutf}{xlcmbstoutf}{2.76}{455}{1541}{3105}
\gS{xsoz}{xsoe}{1.56}{22659}{1754}{3105}
\gS{ctxattr}{glsaf}{4.17}{2}{1918}{2720}
\gS{glsee}{glnz}{13.64}{2}{2161}{3105}
\gS{gladd}{glads}{3.89}{54}{2584}{3105}
\gS{glbze}{glbos}{1.69}{2}{2715}{3105}
\gS{glfna}{nvefs}{3.33}{3}{2977}{3105}
\gS{wtfs}{isext}{0.50}{15}{4501}{3105}
\gE{0.41}{320}{4377}{3105}{(nvot.south) -- (4366,3300) .. controls (4355,3480) and (3700,3540) .. (nvsfz.east)}
\gS{mcb}{udc}{0.77}{86}{651}{3201}
\gS{glresdtor}{wdn}{0.71}{1}{461}{3290}
\gS{uesf}{xcb}{1.04}{20}{900}{3296}
\gS{uesf}{uce}{0.96}{20}{941}{3296}
\gS{uesf}{udn}{3.36}{20}{1035}{3296}
\gS{xlcmbstowcs}{xlccurlc}{0.17}{455}{1301}{3296}
\gS{xlcmbstoutf}{xlccurlc}{0.17}{455}{1367}{3296}
\gS{xlcmbstowcs}{xlcopenconv}{0.54}{455}{1413}{3296}
\gS{xlcmbstoutf}{xlcopenconv}{1.70}{455}{1465}{3296}
\gS{xlcmbstowcs}{xlccloseconv}{0.17}{455}{1520}{3296}
\gS{xlcmbstoutf}{xlccloseconv}{0.45}{455}{1563}{3296}
\gS{xlcmbstowcs}{xlcconvert}{0.20}{455}{1631}{3296}
\gS{xlcmbstoutf}{xlcconvert}{0.30}{455}{1695}{3296}
\gS{xsoe}{getc}{0.77}{20930}{1794}{3296}
\gS{glsaf}{glsfa}{4.09}{2}{1917}{3296}
\gS{glnz}{strcspn}{10.40}{45564}{2113}{3296}
\gS{glnz}{strcat}{0.71}{576}{2159}{3296}
\gS{glnz}{strlen}{1.37}{1960}{2254}{3296}
\gS{glads}{glbft}{1.79}{12}{2544}{3296}
\gS{glads}{glbfa}{2.00}{2}{2584}{3296}
\gS{glbos}{glbst}{1.40}{44}{2715}{3296}
\gS{nvefs}{nvfze}{3.33}{3}{2982}{3296}
\gS{isext}{wsfs}{0.50}{15}{4540}{3297}
\gS{udc}{strstr}{1.21}{710}{640}{3394}
\gS{wdn}{wofn}{0.71}{1}{488}{3490}
\gE{0.50}{1}{570}{2529}{(winclose.south) -- (553,2900) .. controls (553,3300) and (540,3450) .. (wofn.north east)}
\gS{xcb}{udsf}{1.29}{40}{779}{3482}
\gS{uce}{ubaf}{0.97}{40}{919}{3482}
\gS{udn}{ucoa}{3.35}{20}{1064}{3482}
\gS{xlccurlc}{xopenlc}{7.07}{913}{1271}{3490}
\gS{xlcopenconv}{strquark}{0.84}{2759}{1405}{3482}
\gS{xlcopenconv}{xfsz}{1.24}{2755}{1500}{3482}
\gS{xlccloseconv}{free}{0.39}{1835}{1735}{3482}
\gS{glsfa}{glfat}{0.81}{2}{1918}{3482}
\gS{glsfa}{glfad}{3.27}{1}{2018}{3482}
\gE{1.04}{12}{2263}{3482}{(glbft.south west) .. controls (2330,3470) and (2290,3500) .. (glncc.north)}
\gE{0.17}{2}{2342}{3482}{(glbfa.west) .. controls (2450,3460) and (2330,3480) .. (glncc.north east)}
\gS{glbft}{glnad}{0.70}{2}{2440}{3482}
\gS{glbfa}{glnad}{0.70}{2}{2541}{3482}
\gS{glbst}{glafn}{1.31}{44}{2666}{3482}
\gS{nvfze}{nvofa}{1.06}{3}{2902}{3482}
\gS{nvfze}{nvftb}{1.16}{2}{2982}{3482}
\gS{nvfze}{nvsfz}{0.95}{2}{3131}{3482}
\gS{wsfs}{wsef}{0.50}{15}{4539}{3489}
\gS{wofn}{wofc}{1.22}{2}{496}{3654}
\gS{udsf}{usss}{0.36}{20}{730}{3654}
\gE{0.16}{40}{655}{3723}{(udsf.south) .. controls (640,3750) and (700,3860) .. (unft.west)}
\gS{ubaf}{strchr}{0.22}{6282}{916}{3654}
\gS{ubaf}{unft}{0.80}{154}{842}{3723}
\gS{ucoa}{strchr}{0.26}{7251}{1020}{3654}
\gS{ucoa}{ucod}{2.57}{319}{1076}{3654}
\gS{xopenlc}{utfload}{0.54}{1}{1268}{3654}
\gS{xopenlc}{defload}{3.25}{1}{1341}{3654}
\gS{strquark}{xrmquark}{0.79}{3461}{1494}{3654}
\gS{free}{intfree}{1.62}{11404}{1761}{3654}
\gS{glfat}{nvete}{0.81}{2}{1914}{3654}
\gS{glfad}{nvetz}{3.26}{1}{2082}{3654}
\gS{glncc}{dladdri}{1.21}{14}{2292}{3654}
\gS{nvofa}{nvfsd}{1.05}{1}{2590}{3654}
\gS{glnad}{dlopen}{0.80}{4}{2693}{3654}
\gS{nvftb}{nvota}{1.07}{2}{2982}{3654}
\gS{nvsfz}{nvodf}{0.89}{3}{3195}{3654}
\gS{wofc}{destroyctx}{1.06}{2}{496}{3819}
\gS{ucod}{unft}{2.09}{271}{1026}{3819}
\gS{ucod}{strdup}{0.10}{271}{1072}{3915}
\gS{utfload}{xlccreatelc}{3.52}{1}{1306}{3819}
\gS{defload}{xlccreatelc}{3.23}{1}{1375}{3819}
\gS{nvete}{nvfbz}{0.81}{2}{1811}{3819}
\gS{nvetz}{nvene}{2.88}{1}{2076}{3819}
\gS{nvetz}{glfbff}{0.19}{1}{2140}{3915}
\gE{0.19}{1}{2381}{3819}{(nvfsd.south) .. controls (2380,3800) and (2340,3830) .. (dladdri.east)}
\gS{dlopen}{dlerrrun}{1.34}{3}{2774}{3819}
\gS{nvota}{nvoef}{0.73}{2}{2982}{3819}
\gS{nvodf}{nvodsz}{0.89}{3}{3195}{3819}
\gS{destroyctx}{glsfb}{1.05}{2}{496}{3982}
\gS{unft}{ufof}{0.67}{558}{882}{3982}
\gS{unft}{untf}{2.49}{558}{928}{3982}
\gS{unft}{strdup}{0.45}{1116}{1003}{3982}
\gS{xlccreatelc}{xfnb}{6.75}{2}{1326}{3982}
\gS{nvfbz}{nvoaf}{0.60}{2}{1597}{3982}
\gS{glnfo}{calloc}{0.51}{361}{1765}{3982}
\gS{nvene}{nvfse}{0.93}{1}{1941}{3982}
\gS{nvene}{nvfas}{0.95}{1}{1990}{3982}
\gS{nvene}{glfbff}{0.18}{1}{2108}{3982}
\gS{nvesd}{glfbff}{0.55}{3}{2249}{3982}
\gS{dlerrrun}{dlcatch}{2.15}{60}{2822}{3982}
\gS{nvodsz}{nvodfe}{0.89}{3}{3192}{3982}
\gS{glsfb}{nvetb}{1.05}{2}{496}{4148}
\gS{untf}{uesz}{1.81}{558}{784}{4148}
\gS{ufof}{uafb}{0.57}{558}{903}{4243}
\gS{untf}{uafb}{0.57}{558}{946}{4243}
\gS{strdup}{qnf}{0.43}{1749}{1056}{4148}
\gS{xfnb}{xfcf}{6.57}{2}{1326}{4145}
\gS{calloc}{mallochook}{2.18}{1}{1771}{4148}
\gS{nvfse}{nvotf}{0.82}{1}{1911}{4148}
\gS{glfbff}{glfbz}{0.45}{5}{2151}{4148}
\gS{dlcatch}{dlopendoit}{1.67}{8}{2886}{4148}
\gS{nvodfe}{nvosd}{0.87}{3}{3186}{4148}
\gE{1.29}{15}{2396}{4148}{(dladdri.south) .. controls (2300,4100) and (2400,4200) .. (2390,4300) .. controls (2370,4500) and (1950,4500) .. (dladdr.north east)}
\gS{nvetb}{nvfsa}{1.05}{2}{496}{4311}
\gS{uesz}{uefe}{0.60}{1227}{759}{4311}
\gS{uesz}{uafb}{0.76}{762}{844}{4311}
\gS{uesz}{usef}{0.12}{519}{808}{4380}
\gS{qnf}{malloc}{0.66}{2467}{1053}{4311}
\gS{xfcf}{xlccrdb}{1.51}{2}{1314}{4311}
\gS{xfcf}{xlcresolve}{4.79}{2}{1387}{4311}
\gS{mallochook}{ptmalloc}{2.18}{1}{1781}{4311}
\gS{nvotf}{glnsn}{0.82}{129}{1975}{4311}
\gS{nvfas}{glnsn}{0.92}{144}{2039}{4243}
\gS{glfbz}{memcpy}{0.61}{7}{2182}{4311}
\gS{dlmain}{dlreloc}{17.63}{30}{2581}{4311}
\gS{dlmain}{mapobj}{0.47}{1}{2730}{4311}
\gS{dlopendoit}{dlopenb}{1.67}{8}{2915}{4311}
\gS{nvosd}{nvefc}{0.87}{3}{3181}{4311}
\gS{nvfsa}{nvotac}{1.05}{2}{496}{4475}
\gS{uefe}{usef}{0.53}{2295}{753}{4475}
\gS{uafb}{ufsf}{0.76}{1940}{914}{4475}
\gS{malloc}{intmalloc}{1.07}{3564}{1059}{4475}
\gS{xlccrdb}{xlcfilename}{1.11}{2}{1263}{4475}
\gS{ptmalloc}{dladdr}{1.20}{1}{1848}{4475}
\gE{1.03}{376}{2562}{4475}{(glnsn.south east) .. controls (2150,4450) and (2450,4440) .. (glfea.north west)}
\gS{mapobj}{dlcatchb}{0.44}{30}{2846}{4475}
\gS{dlopenb}{dlcatchb}{1.66}{8}{2913}{4475}
\gS{nvefc}{nvfdb}{0.86}{3}{3181}{4475}
\gS{xlcresolve}{xfse}{4.77}{2}{1341}{4570}
\gS{xlcfilename}{xfse}{2.12}{4}{1187}{4639}
\gS{dladdr}{dlruntime}{1.11}{1}{1876}{4639}
\gS{nvotac}{nvofs}{0.75}{2}{496}{4642}
\gS{glfea}{glneb}{0.49}{758}{2582}{4639}
\gS{dlcatchb}{dlopenwk}{2.01}{8}{2864}{4639}
\gS{nvfdb}{nvfdf}{0.92}{46}{3175}{4639}
\gE{18.52}{1}{2429}{2146}{(dlsysdep.south) -- (2293,1800) .. controls (2293,2300) and (2826,2800) .. (2826,3300) -- (2826,3560) .. controls (2826,3700) and (2640,3750) .. (dlmain.north)}
\gE{8.51}{1}{3088}{2337}{(ld.east) .. controls (2700,110) and (3070,90) .. (3070,400) -- (3070,4450) .. controls (3070,4650) and (2900,4700) .. (dlinit.north east)}
\gE{3.84}{1}{2686}{4054}{(glsef.north east) .. controls (2660,5000) and (2666,4900) .. (2666,4750) -- (2666,3800) .. controls (2666,3700) and (2855,3680) .. (2855,3500) -- (2855,3250) .. controls (2855,3000) and (2760,2860) .. (glfe.east)}
\gE{0.90}{2}{3043}{4573}{(glbsf.north east) .. controls (2960,5300) and (3020,5000) .. (3020,4750) .. controls (3020,4300) and (2930,3900) .. (dlopen.south east)}
\gE{0.16}{1906}{617}{4374}{(mcb.south west) .. controls (600,3300) and (598,3500) .. (598,3800) -- (598,5100) .. controls (598,5180) and (600,5200) .. (memchr.north)}
\gE{0.04}{21}{2727}{4782}{(mapobj.south west) .. controls (2715,4500) and (2700,4600) .. (2700,4800) -- (2690,5400) -- (dlsym.north)}
\gE{1.20}{1103}{2749}{5535}{(mapobj.south) .. controls (2740,4500) and (2728,4600) .. (2728,4800) -- (2728,6300) -- (snprintf.north)}
\gE{0.14}{2}{1593}{4848}{(nvoaf.south) .. controls (1580,4500) and (1560,4800) .. (1560,5000) .. controls (1560,5300) and (1750,5500) .. (nvesfs.north west)}
\gE{0.40}{375}{1673}{5466}{(glnsn.south west) .. controls (1900,4500) and (1654,4500) .. (1654,4700) -- (1654,6300) .. controls (1654,6420) and (2400,6480) .. (snprintf.west)}
\gS{nvofs}{bnv}{0.54}{4416}{496}{4782}
\gS{xfse}{fgets}{3.33}{7354}{1067}{4786}
\gS{xfse}{xfbs}{3.10}{6854}{1187}{4786}
\gS{fgets}{getline}{2.45}{8068}{869}{4917}
\gS{getline}{getlinfo}{2.33}{8068}{765}{5053}
\gS{getlinfo}{memchr}{1.20}{8112}{696}{5190}
\gS{getlinfo}{gimemcpy}{0.34}{8112}{743}{5190}
\gS{dlruntime}{dlfixup}{2.65}{240}{1877}{4782}
\gS{dlfixup}{lookup}{2.52}{240}{1874}{4910}
\gE{6.72}{5515}{2194}{4711}{(dlreloc.south west) .. controls (2250,4600) and (2175,4700) .. (2175,4850) .. controls (2175,4950) and (2050,4990) .. (lookup.east)}
\gS{lookup}{dolookup}{7.52}{4106}{1874}{5053}
\gS{mapobject}{namematch}{0.18}{1680}{1757}{5190}
\gS{dolookup}{namematch}{0.77}{8550}{1826}{5190}
\gS{dolookup}{checkmatch}{1.07}{5765}{1881}{5190}
\gS{namematch}{ldstrcmp}{0.59}{22225}{1776}{5326}
\gS{checkmatch}{ldstrcmp}{0.65}{5930}{1845}{5326}
\gS{glsef}{glndsd}{4.70}{1}{2461}{5190}
\gS{glndsd}{nvecb}{4.70}{1}{2155}{5326}
\gS{nvecb}{nvecbz}{2.88}{4472}{2012}{5466}
\gS{nvecbz}{nvesfs}{1.95}{4472}{1885}{5602}
\gS{nvesfs}{memset}{2.18}{5298}{1819}{5739}
\gS{glneb}{getenv}{0.55}{830}{2582}{4782}
\gS{dlopenwk}{dlinit}{1.30}{1}{2864}{4782}
\gS{dlinit}{callinit}{10.34}{32}{2849}{4910}
\gS{callinit}{glsef}{9.99}{1}{2740}{5053}
\gS{glsef}{glnfn}{0.64}{1}{2751}{5190}
\gS{glnfn}{glnao}{0.58}{1}{2870}{5326}
\gS{glnao}{dlsym}{0.18}{1}{2785}{5466}
\gS{glnao}{glbsf}{0.40}{1}{2906}{5466}
\gS{nvfdf}{ra}{0.91}{2}{3160}{4782}
\gS{ra}{rb}{0.86}{1}{3152}{4918}
\gS{rb}{rc}{0.85}{1}{3152}{5055}
\gS{rc}{rd}{0.84}{1}{3152}{5192}
\gS{rd}{re}{0.84}{1}{3152}{5330}
\gS{re}{rf}{0.85}{2}{3128}{5466}
\gS{rf}{rg}{0.84}{2}{3036}{5602}
\gS{rg}{rh}{0.83}{1}{2933}{5739}
\gS{rh}{ri}{0.80}{1}{2871}{5877}
\gS{ri}{rj}{0.80}{1}{2857}{6013}
\gS{rj}{rk}{0.74}{1}{2854}{6153}
\gS{rk}{rl}{0.73}{1}{2854}{6289}
\wcol{ec}{0.0073}%
\draw[ec, line width=0.18pt, -{Triangle[length=1.5pt, width=1pt]}] ([yshift=-0.1cm]rl.east) .. controls +(40,-20) and +(40,20) .. ([yshift=0.1cm]rl.east);
\node[elab, text=ec] at (2950,6357) {1×};
\gS{rl}{snprintf}{0.22}{127}{2811}{6426}
\gS{snprintf}{vsnprintf}{1.83}{1670}{2749}{6562}
\gS{vsnprintf}{vfprintf}{1.69}{1670}{2749}{6700}
\end{tikzpicture}
\end{document}
